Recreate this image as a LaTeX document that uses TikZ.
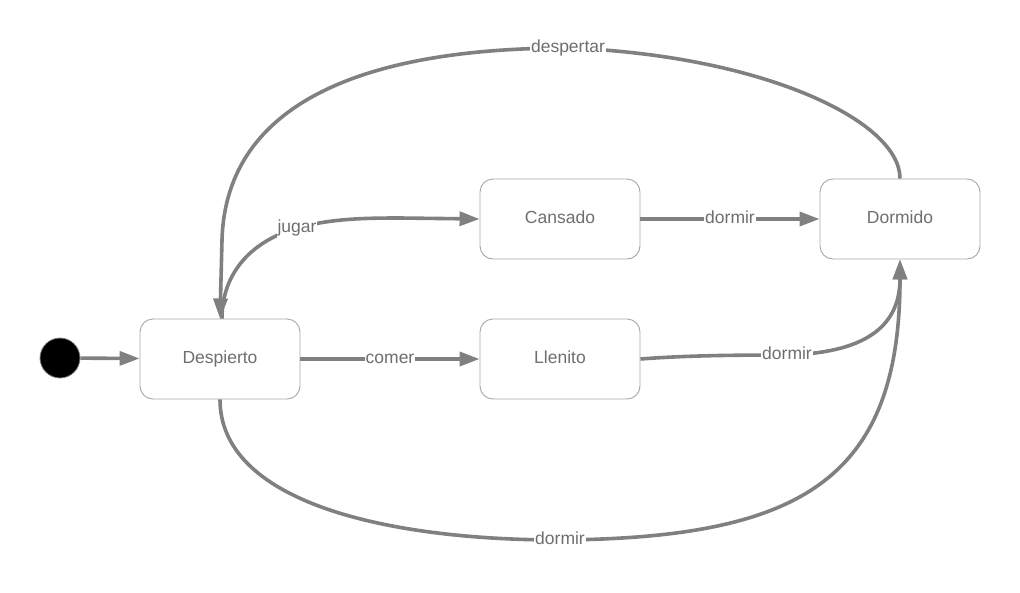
\documentclass[tikz,border=0pt]{standalone}
\usepackage{fontspec}
\setmainfont{Liberation Sans}
\usetikzlibrary{arrows.meta}
\definecolor{edgegray}{HTML}{808080}
\definecolor{boxgray}{HTML}{A6A6A6}
\definecolor{txtgray}{HTML}{6E6E6E}
\tikzset{
  state/.style={draw=boxgray, line width=0.9pt, rounded corners=13pt, minimum width=160pt, minimum height=80pt, text=txtgray, font=\fontsize{17.5}{20}\selectfont, text height=12.7pt, text depth=4pt},
  edge/.style={draw=edgegray, line width=3.6pt, -{Triangle[length=20pt,width=14pt]}},
  lbl/.style={fill=white, inner sep=1pt, text=txtgray, font=\fontsize{17.5}{20}\selectfont, text height=12.7pt, text depth=4pt},
  initst/.style={circle, fill=black, draw=edgegray, line width=0.8pt, minimum size=40pt, inner sep=0pt}
}
\begin{document}
\begin{tikzpicture}[x=1pt,y=-1pt]
\useasboundingbox (0,0) rectangle (1020,592);
\node[initst] (init) at (60,358) {};
\node[state] (D) at (220,359) {Despierto};
\node[state] (C) at (560,219) {Cansado};
\node[state] (L) at (560,359) {Llenito};
\node[state] (Dm) at (900,219) {Dormido};

\draw[edge] (init) -- (D);
\draw[edge] (D) -- node[lbl]{comer} (L);
\draw[edge] (C) -- node[lbl]{dormir} (Dm);
\draw[edge] ([xshift=2pt]D.north) .. controls (222,270) and (255,240) .. (297,228) node[lbl]{jugar}
  .. controls (330,219) and (360,218) .. (400,218) -- (C.west);
\draw[edge] (Dm.north) .. controls (900,120) and (760,55) .. (568,48) node[lbl]{despertar}
  .. controls (370,48) and (226,100) .. (222,240) -- (D.north);
\draw[edge] (L.east) .. controls (680,356) and (720,355) .. (787,355) node[lbl]{dormir}
  .. controls (860,353) and (900,330) .. (Dm.south);
\draw[edge] (D.south) .. controls (220,500) and (380,540) .. (560,540) node[lbl]{dormir}
  .. controls (800,538) and (900,480) .. (Dm.south);
\end{tikzpicture}
\end{document}
